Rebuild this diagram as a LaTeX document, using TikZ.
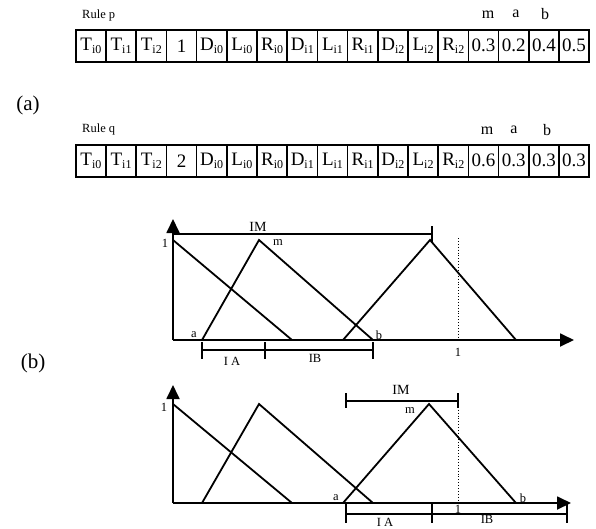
\documentclass[tikz,border=0pt]{standalone}
\usepackage{fontspec}
\setmainfont{Liberation Serif}
\usetikzlibrary{arrows.meta}
\newcommand{\sbx}[1]{\raisebox{-0.35ex}{\fontsize{12}{12}\selectfont #1}}
\begin{document}
\begin{tikzpicture}[x=1pt,y=-1pt,
  cell/.style={draw, line width=1.6pt, minimum width=30.2pt, minimum height=32pt,
    inner sep=0pt, anchor=north west, font=\fontsize{19}{19}\selectfont},
  rulelbl/.style={inner sep=0pt, font=\fontsize{12.5}{12.5}\selectfont},
  parlbl/.style={inner sep=0pt, font=\fontsize{16}{16}\selectfont},
  big/.style={inner sep=0pt, font=\fontsize{21}{21}\selectfont},
  glbl/.style={inner sep=0pt, font=\fontsize{12.5}{12.5}\selectfont},
  imlbl/.style={inner sep=0pt, font=\fontsize{14}{14}\selectfont},
  gline/.style={line width=1.8pt},
  axis/.style={line width=1.8pt, -{Triangle[length=14pt,width=13pt]}},
  dots/.style={line width=0.9pt, dotted},
]
\useasboundingbox (0,0) rectangle (596,528);

% ---------- (a) rule tables ----------
\node[rulelbl, anchor=west] (rp) at (82,15) {Rule p};
\foreach \t [count=\k from 0] in {T\sbx{i0},T\sbx{i1},T\sbx{i2},1,D\sbx{i0},L\sbx{i0},R\sbx{i0},D\sbx{i1},L\sbx{i1},R\sbx{i1},D\sbx{i2},L\sbx{i2},R\sbx{i2},0.3,0.2,0.4,0.5}
  \node[cell] (p\k) at ({75+30.2*\k},29) {\t};
\node[parlbl] (pm) at (488,15) {m};
\node[parlbl] (pa) at (516,14) {a};
\node[parlbl] (pb) at (545,14) {b};

\node[big] (la) at (28,105) {(a)};

\node[rulelbl, anchor=west] (rq) at (82,129) {Rule q};
\foreach \t [count=\k from 0] in {T\sbx{i0},T\sbx{i1},T\sbx{i2},2,D\sbx{i0},L\sbx{i0},R\sbx{i0},D\sbx{i1},L\sbx{i1},R\sbx{i1},D\sbx{i2},L\sbx{i2},R\sbx{i2},0.6,0.3,0.3,0.3}
  \node[cell] (q\k) at ({75+30.2*\k},144) {\t};
\node[parlbl] (qm) at (487,131) {m};
\node[parlbl] (qa) at (514,130) {a};
\node[parlbl] (qb) at (547,130) {b};

\node[big] (lb) at (33,363) {(b)};

% ---------- (b) upper graph ----------
\coordinate (oA) at (173,340);
\draw[axis] (oA) -- (173,219);
\draw[axis] (oA) -- (574,340);
\draw[gline] (173,240) -- (292,340);
\draw[gline] (202,340) -- (259,240) -- (373,340);
\draw[gline] (343,340) -- (430,240) -- (516,340);
\draw[gline] (173,234) -- (432,234);
\draw[gline] (432,226) -- (432,242);
\draw[dots] (458,238) -- (458,338);
\node[glbl] (a1) at (165,243) {1};
\node[imlbl] (aIM) at (258,227) {IM};
\node[glbl] (am) at (278,243) {m};
\node[glbl] (aa) at (194,335) {a};
\node[glbl] (ab) at (379,335) {b};
\node[glbl] (ax1) at (458,352) {1};
\draw[gline] (202,350) -- (373,350);
\foreach \x in {202,265,373} \draw[gline] (\x,342) -- (\x,359);
\node[glbl] (aIA) at (232,361) {I A};
\node[glbl] (aIB) at (315,358) {IB};

% ---------- (b) lower graph ----------
\coordinate (oB) at (173,503);
\draw[axis] (oB) -- (173,385);
\draw[axis] (oB) -- (571,503);
\draw[gline] (173,404) -- (292,503);
\draw[gline] (202,503) -- (259,404) -- (373,503);
\draw[gline] (343,503) -- (429,404) -- (516,503);
\draw[gline] (346,401) -- (458,401);
\foreach \x in {346,458} \draw[gline] (\x,393) -- (\x,408);
\draw[dots] (458,401) -- (458,503);
\node[glbl] (b1) at (164,407) {1};
\node[imlbl] (bIM) at (401,390) {IM};
\node[glbl] (bm) at (410,411) {m};
\node[glbl] (ba) at (336,498) {a};
\node[glbl] (bb) at (523,498) {b};
\node[glbl] (bx1) at (458,509) {1};
\draw[gline] (346,514) -- (567,514);
\foreach \x in {346,432,567} \draw[gline] (\x,504) -- (\x,523);
\node[glbl] (bIA) at (385,522) {I A};
\node[glbl] (bIB) at (487,519) {IB};
\end{tikzpicture}
\end{document}
